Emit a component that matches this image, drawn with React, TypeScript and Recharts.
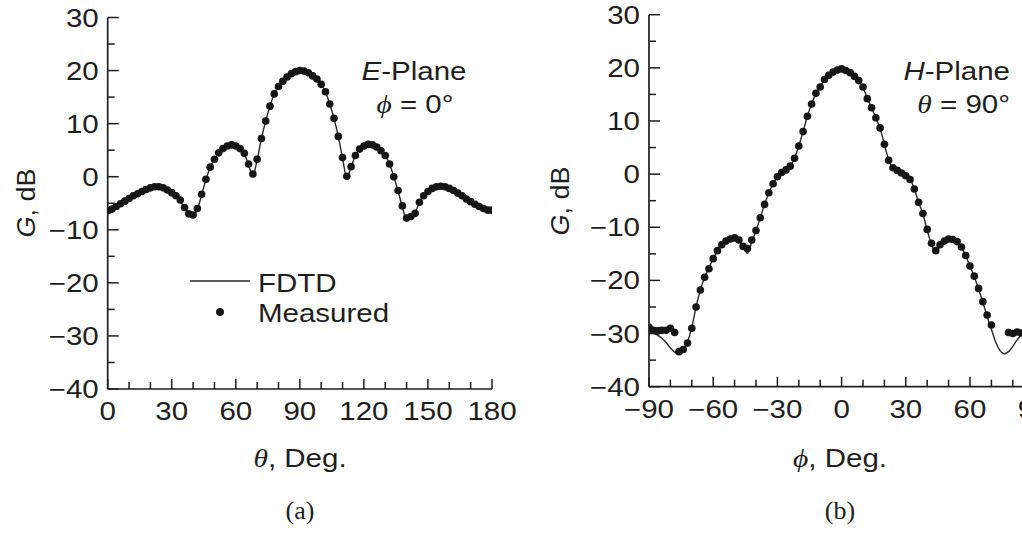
import React from 'react';
import { ComposedChart, Line, XAxis, YAxis } from 'recharts';

// ---------- data ----------
const thetaDeg = [0,2,4,6,8,10,12,14,16,18,20,22,24,26,28,30,32,34,36,38,40,42,44,46,48,50,52,54,56,58,60,62,64,66,68,70,72,74,76,78,80,82,84,86,88,90,92,94,96,98,100,102,104,106,108,110,112,114,116,118,120,122,124,126,128,130,132,134,136,138,140,142,144,146,148,150,152,154,156,158,160,162,164,166,168,170,172,174,176,178,180];

const eMeasured = [-6.4,-6.1,-5.6,-5.1,-4.6,-4.1,-3.6,-3.2,-2.8,-2.4,-2.1,-1.9,-1.9,-2.1,-2.5,-3.0,-3.6,-4.4,-5.8,-7.0,-7.2,-6.0,-3.3,-0.5,1.8,3.3,4.5,5.3,5.8,6.0,5.8,5.3,4.4,2.4,0.5,3.3,7.2,10.5,13.3,15.6,17.0,18.0,18.8,19.4,19.8,
  20.0,19.9,19.6,19.0,18.4,17.4,16.0,13.7,11.0,7.6,3.6,0.1,1.9,4.0,5.2,5.8,6.1,6.0,5.6,4.9,4.0,2.4,0.0,-2.6,-5.5,-7.8,-7.5,-6.9,-4.8,-3.6,-2.8,-2.2,-1.9,-1.8,-1.9,-2.2,-2.6,-3.1,-3.6,-4.2,-4.7,-5.2,-5.6,-6.0,-6.3,-6.3];

const eFdtd = [-6.2,-5.9,-5.5,-5.0,-4.5,-4.0,-3.6,-3.2,-2.8,-2.4,-2.1,-1.9,-1.9,-2.1,-2.5,-3.0,-3.7,-4.6,-5.9,-7.2,-7.5,-6.2,-3.4,-0.6,1.8,3.3,4.5,5.3,5.8,6.0,5.8,5.3,4.3,2.2,0.2,3.2,7.2,10.5,13.3,15.6,17.0,18.0,18.8,19.4,19.8,
  20.0,19.9,19.6,19.1,18.4,17.4,16.0,13.7,11.0,7.6,3.5,-0.2,1.8,4.0,5.2,5.8,6.1,6.0,5.6,4.9,4.0,2.4,0.0,-2.7,-5.7,-8.0,-7.6,-6.8,-4.8,-3.6,-2.8,-2.2,-1.9,-1.8,-1.9,-2.2,-2.6,-3.1,-3.6,-4.2,-4.7,-5.2,-5.6,-6.0,-6.2,-6.2];

const phiDeg = [-90,-88,-86,-84,-82,-80,-78,-76,-74,-72,-70,-68,-66,-64,-62,-60,-58,-56,-54,-52,-50,-48,-46,-44,-42,-40,-38,-36,-34,-32,-30,-28,-26,-24,-22,-20,-18,-16,-14,-12,-10,-8,-6,-4,-2,0,2,4,6,8,10,12,14,16,18,20,22,24,26,28,30,32,34,36,38,40,42,44,46,48,50,52,54,56,58,60,62,64,66,68,70,72,74,76,78,80,82,84,86,88,90];

const hMeasured: (number | null)[] = [-28.8,-29.4,-29.5,-29.4,-29.4,-29.0,-29.8,-33.4,-33.0,-31.8,-29.0,-25.0,-21.8,-19.4,-17.8,-15.9,-14.4,-13.3,-12.6,-12.2,-12.0,-12.4,-13.6,-14.0,-12.4,-10.6,-8.2,-5.7,-3.5,-1.8,-0.5,0.3,0.8,1.5,3.0,5.3,8.0,10.9,13.2,15.2,16.4,17.8,18.6,19.2,19.6,
  19.8,19.5,19.1,18.4,17.6,16.4,14.2,12.5,10.6,8.7,5.6,2.6,1.2,0.7,0.2,-0.3,-1.0,-2.8,-5.3,-7.4,-10.4,-13.0,-14.4,-13.3,-12.6,-12.2,-12.3,-12.7,-13.7,-15.3,-17.3,-19.2,-21.5,-24.0,-26.5,-28.4,null,null,null,-29.8,-30.0,-29.7,-29.9,-30.0,-29.8,-29.6];

const hFdtd = [-29.6,-29.9,-30.3,-30.9,-31.7,-32.7,-33.5,-33.8,-33.2,-31.6,-28.8,-25.0,-21.8,-19.4,-17.6,-15.9,-14.4,-13.3,-12.6,-12.2,-12.1,-12.6,-13.8,-14.9,-12.8,-10.6,-8.2,-5.7,-3.5,-1.8,-0.6,0.2,0.8,1.5,3.0,5.3,8.0,10.9,13.2,15.1,16.5,17.7,18.6,19.2,19.6,
  19.8,19.6,19.1,18.4,17.5,16.3,14.3,12.5,10.6,8.6,5.6,2.7,1.2,0.7,0.2,-0.3,-1.0,-2.8,-5.3,-7.5,-10.5,-13.3,-14.8,-13.5,-12.6,-12.2,-12.3,-12.8,-13.8,-15.4,-17.3,-19.3,-21.6,-24.1,-26.8,-29.2,-31.6,-33.2,-33.8,-33.4,-32.4,-31.2,-30.3,-29.8,-29.5,-29.4];

const thetaTicks = [0,10,20,30,40,50,60,70,80,90,100,110,120,130,140,150,160,170,180];
const phiTicks = [-90,-80,-70,-60,-50,-40,-30,-20,-10,0,10,20,30,40,50,60,70,80,90];
const gainTicks = [-40,-35,-30,-25,-20,-15,-10,-5,0,5,10,15,20,25,30];

// ---------- styles ----------
const FONT = '"Liberation Sans", Arial, Helvetica, sans-serif';
const SERIF = '"Liberation Serif", "Times New Roman", serif';
const INK = '#1e1e1e';
const SX = 1.18;
const FS = 25;

const fmt = (v: number) => (v < 0 ? '\u2212' + Math.abs(v) : String(v));

const BottomTick = (p: any) => {
  const { x, y, payload } = p;
  const v = payload.value;
  const major = v % 30 === 0;
  return (
    <g>
      <line x1={x} y1={y} x2={x} y2={y - (major ? 10 : 7)} stroke={INK} strokeWidth={1.5} />
      {major && (
        <text transform={`translate(${x},${y + 31}) scale(${SX},1)`} textAnchor="middle" fontFamily={FONT} fontSize={FS} fill={INK}>
          {fmt(v)}
        </text>
      )}
    </g>
  );
};

const TopTick = (p: any) => {
  const { x, y } = p;
  return <line x1={x} y1={y} x2={x} y2={y + 7} stroke={INK} strokeWidth={1.5} />;
};

const LeftTick = (p: any) => {
  const { x, y, payload } = p;
  const v = payload.value;
  const major = v % 10 === 0;
  return (
    <g>
      <line x1={x} y1={y} x2={x + (major ? 11 : 7)} y2={y} stroke={INK} strokeWidth={1.5} />
      {major && (
        <text transform={`translate(${x - 9},${y + 9}) scale(${SX},1)`} textAnchor="end" fontFamily={FONT} fontSize={FS} fill={INK}>
          {fmt(v)}
        </text>
      )}
    </g>
  );
};

const RightTick = (p: any) => {
  const { x, y } = p;
  return <line x1={x} y1={y} x2={x - 7} y2={y} stroke={INK} strokeWidth={1.5} />;
};

const axisLine = { stroke: INK, strokeWidth: 1.7 };

type PanelProps = {
  rows: any[];
  xKey: string;
  domain: [number, number];
  xTicks: number[];
  margin: { top: number; right: number; bottom: number; left: number };
};

const Panel = ({ rows, xKey, domain, xTicks, margin }: PanelProps) => (
  <ComposedChart width={520} height={540} data={rows} margin={margin}>
    <XAxis xAxisId="bottom" dataKey={xKey} type="number" domain={domain} ticks={xTicks} interval={0}
      allowDataOverflow height={30} tickSize={0} tickMargin={0} tickLine={false} axisLine={axisLine}
      tick={(p: any) => <BottomTick {...p} />} />
    <XAxis xAxisId="top" orientation="top" dataKey={xKey} type="number" domain={domain} ticks={xTicks} interval={0}
      allowDataOverflow height={0} tickSize={0} tickMargin={0} tickLine={false} axisLine={axisLine}
      tick={(p: any) => <TopTick {...p} />} />
    <YAxis yAxisId="left" type="number" domain={[-40, 30]} ticks={gainTicks} interval={0} allowDataOverflow
      width={60} tickSize={0} tickMargin={0} tickLine={false} axisLine={axisLine}
      tick={(p: any) => <LeftTick {...p} />} />
    <YAxis yAxisId="right" orientation="right" type="number" domain={[-40, 30]} ticks={gainTicks} interval={0} allowDataOverflow
      width={0} tickSize={0} tickMargin={0} tickLine={false} axisLine={axisLine}
      tick={(p: any) => <RightTick {...p} />} />
    <Line xAxisId="bottom" yAxisId="left" dataKey="fdtd" type="monotone" stroke="#2a2a2a" strokeWidth={1.4}
      dot={false} activeDot={false} isAnimationActive={false} />
    <Line xAxisId="bottom" yAxisId="left" dataKey="meas" stroke="none" strokeWidth={0}
      dot={{ r: 3.8, fill: '#161616', stroke: 'none' }} activeDot={false} isAnimationActive={false} />
  </ComposedChart>
);

const eRows = thetaDeg.map((t, i) => ({ theta: t, fdtd: eFdtd[i], meas: eMeasured[i] }));
const hRows = phiDeg.map((f, i) => ({ phi: f, fdtd: hFdtd[i], meas: hMeasured[i] }));

const T = (props: any) => (
  <text fontFamily={FONT} fontSize={FS} fill={INK} {...props} />
);

export default function App() {
  return (
    <div style={{ position: 'absolute', left: 0, top: 0, width: 1022, height: 540, overflow: 'hidden', background: '#fff' }}>
      <div style={{ position: 'absolute', left: 0, top: 0 }}>
        <Panel rows={eRows} xKey="theta" domain={[0, 180]} xTicks={thetaTicks}
          margin={{ top: 17.5, right: 28, bottom: 121, left: 47.7 }} />
      </div>
      <div style={{ position: 'absolute', left: 560, top: 0 }}>
        <Panel rows={hRows} xKey="phi" domain={[-90, 90]} xTicks={phiTicks}
          margin={{ top: 14.7, right: 45.8, bottom: 123.3, left: 29 }} />
      </div>
      <svg width={1022} height={540} style={{ position: 'absolute', left: 0, top: 0, pointerEvents: 'none' }}>
        {/* Panel (a) */}
        <T transform="translate(35,203) rotate(-90) scale(1.08,1)" textAnchor="middle">
          <tspan fontStyle="italic">G</tspan>, dB
        </T>
        <T transform={`translate(300,467) scale(${SX},1)`} textAnchor="middle">
          <tspan fontFamily={SERIF} fontStyle="italic">θ</tspan>, Deg.
        </T>
        <text x={300} y={519} textAnchor="middle" fontFamily={SERIF} fontSize={26} fill={INK}>(a)</text>
        <T transform={`translate(414,80) scale(${SX},1)`} textAnchor="middle">
          <tspan fontStyle="italic">E</tspan>-Plane
        </T>
        <T transform={`translate(415,113) scale(${SX},1)`} textAnchor="middle">
          <tspan fontFamily={SERIF} fontStyle="italic">ϕ</tspan> = 0°
        </T>
        <line x1={190} y1={281} x2={250} y2={281} stroke="#2a2a2a" strokeWidth={1.5} />
        <T transform={`translate(258,292) scale(${SX},1)`}>FDTD</T>
        <circle cx={220} cy={312} r={4} fill="#161616" />
        <T transform={`translate(258,322) scale(${SX},1)`}>Measured</T>

        {/* Panel (b) */}
        <T transform="translate(569,201) rotate(-90) scale(1.08,1)" textAnchor="middle">
          <tspan fontStyle="italic">G</tspan>, dB
        </T>
        <T transform={`translate(840,467) scale(${SX},1)`} textAnchor="middle">
          <tspan fontFamily={SERIF} fontStyle="italic">ϕ</tspan>, Deg.
        </T>
        <text x={840} y={519} textAnchor="middle" fontFamily={SERIF} fontSize={26} fill={INK}>(b)</text>
        <T transform={`translate(1010,80) scale(${SX},1)`} textAnchor="end">
          <tspan fontStyle="italic">H</tspan>-Plane
        </T>
        <T transform={`translate(1010,113) scale(${SX},1)`} textAnchor="end">
          <tspan fontFamily={SERIF} fontStyle="italic">θ</tspan> = 90°
        </T>
      </svg>
    </div>
  );
}
